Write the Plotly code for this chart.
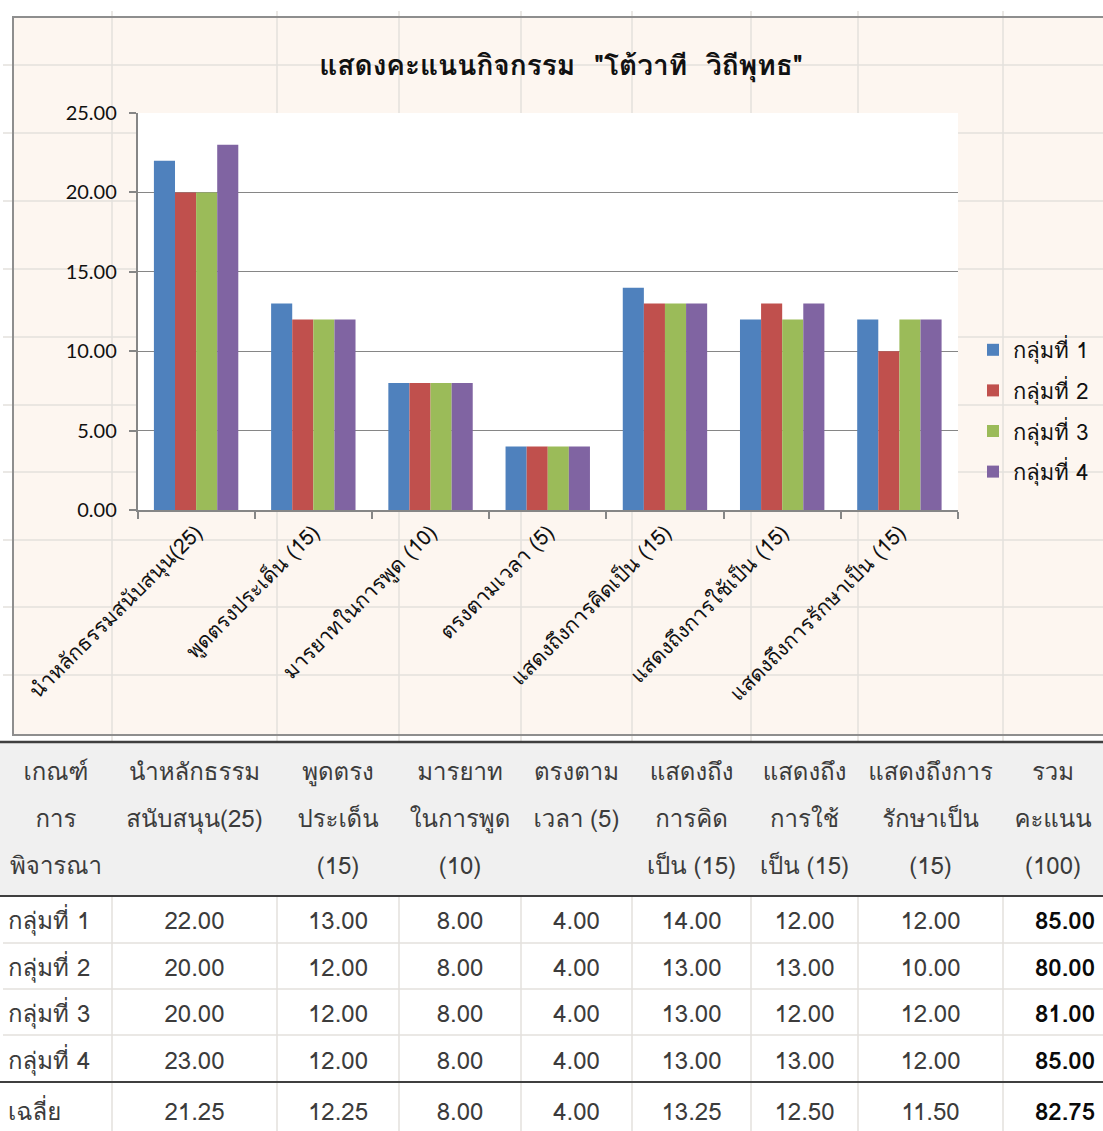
import plotly.graph_objects as go

# ---------------- data ----------------
categories = [
    "นำหลักธรรมสนับสนุน(25)",
    "พูดตรงประเด็น (15)",
    "มารยาทในการพูด (10)",
    "ตรงตามเวลา (5)",
    "แสดงถึงการคิดเป็น (15)",
    "แสดงถึงการใช้เป็น (15)",
    "แสดงถึงการรักษาเป็น (15)",
]
group_names = ["กลุ่มที่ 1", "กลุ่มที่ 2", "กลุ่มที่ 3", "กลุ่มที่ 4"]
group1 = [22, 13, 8, 4, 14, 12, 12]
group2 = [20, 12, 8, 4, 13, 13, 10]
group3 = [20, 12, 8, 4, 13, 12, 12]
group4 = [23, 12, 8, 4, 13, 13, 12]
y_ticks = [0, 5, 10, 15, 20, 25]

title_text = 'แสดงคะแนนกิจกรรม  "โต้วาที  วิถีพุทธ"'

NB = "\u00a0"
header_lines = [
    ["เกณฑ์", "การ", "พิจารณา"],
    ["นำหลักธรรม", "สนับสนุน(25)", ""],
    ["พูดตรง", "ประเด็น", "(15)"],
    ["มารยาท", "ในการพูด", "(10)"],
    ["ตรงตาม", f"เวลา{NB}(5)", ""],
    ["แสดงถึง", "การคิด", f"เป็น{NB}(15)"],
    ["แสดงถึง", "การใช้", f"เป็น{NB}(15)"],
    ["แสดงถึงการ", "รักษาเป็น", "(15)"],
    ["รวม", "คะแนน", "(100)"],
]
avg_label = "เฉลี่ย"

# ---------------- styling constants ----------------
W, H = 1103, 1131
colors = ["#4F81BD", "#C0504D", "#9BBB59", "#8064A2"]
THAI = "Tahoma, Loma, 'Noto Sans Thai Looped', 'Noto Sans Thai', 'Noto Sans', sans-serif"
LAT = "Lato, Carlito, Calibri, 'Noto Sans Thai', 'Noto Sans', sans-serif"
TFS = 24


def px_x(v):
    return v / W


def px_y(v):
    return 1 - v / H


series = [group1, group2, group3, group4]

fig = go.Figure()
for i, (name, vals) in enumerate(zip(group_names, series)):
    fig.add_trace(go.Bar(
        x=categories, y=vals, name=name,
        marker=dict(color=colors[i], line=dict(width=0)),
        legendgroup=f"g{i}",
    ))

# ---------------- table ----------------
row_totals = [sum(s) for s in series]
avgs = [sum(s[j] for s in series) / len(series) for j in range(len(categories))]
avg_total = sum(row_totals) / len(row_totals)

ncols = len(header_lines)
col_widths = [112, 165, 122, 122, 111, 119, 107, 145, 100]
HEAD_BG = "#F0F0F0"
TXT = "#3C3C3C"
CLEAR = "rgba(0,0,0,0)"

# header table (3 text lines)
fig.add_trace(go.Table(
    domain=dict(x=[0, 1], y=[px_y(900), px_y(754)]),
    columnwidth=col_widths,
    header=dict(
        values=[h[0] for h in header_lines],
        fill_color=CLEAR, line=dict(color=CLEAR, width=0),
        align="center", height=47,
        font=dict(family=THAI, size=TFS, color=TXT),
    ),
    cells=dict(
        values=[[h[1], h[2]] for h in header_lines],
        fill_color=CLEAR, line=dict(color=CLEAR, width=0),
        align="center", height=47,
        font=dict(family=THAI, size=TFS, color=TXT),
    ),
))

# group rows
body_cols = [list(group_names)]
for j in range(len(categories)):
    body_cols.append([f"{s[j]:.2f}" for s in series])
body_cols.append([f"{t:.2f}" for t in row_totals])
avg_row = [avg_label] + [f"{a:.2f}" for a in avgs] + [f"{avg_total:.2f}"]

aligns = ["left"] + ["center"] * len(categories) + ["right"]
fcolors = [TXT] * (ncols - 1) + ["#0A0A0A"]
fweights = [400] * (ncols - 1) + [700]
body_font = dict(family=THAI, size=TFS, color=fcolors, weight=fweights)

fig.add_trace(go.Table(
    domain=dict(x=[0, 1], y=[px_y(1092), px_y(903)]),
    columnwidth=col_widths,
    header=dict(
        values=[c[0] for c in body_cols],
        fill_color=CLEAR, line=dict(color=CLEAR, width=0),
        align=aligns, height=46.7, font=body_font,
    ),
    cells=dict(
        values=[c[1:] for c in body_cols],
        fill_color=CLEAR, line=dict(color=CLEAR, width=0),
        align=aligns, height=46.7, font=body_font,
    ),
))

# average row
fig.add_trace(go.Table(
    domain=dict(x=[0, 1], y=[0, px_y(1094)]),
    columnwidth=col_widths,
    header=dict(
        values=avg_row,
        fill_color=CLEAR, line=dict(color=CLEAR, width=0),
        align=aligns, height=37, font=body_font,
    ),
    cells=dict(values=[[] for _ in avg_row],
               fill_color=CLEAR, line=dict(color=CLEAR, width=0)),
))

# ---------------- background (spreadsheet + chart area) ----------------
GRID = "#E3E0DD"
shapes = []
shapes.append(dict(type="rect", xref="paper", yref="paper",
                   x0=px_x(13), x1=px_x(1110), y0=px_y(735), y1=px_y(17),
                   fillcolor="#FDF6F0", line=dict(width=0), layer="below"))
for xv in [112, 277, 399, 521, 632, 751, 858, 1003]:
    shapes.append(dict(type="line", xref="paper", yref="paper",
                       x0=px_x(xv), x1=px_x(xv), y0=0, y1=px_y(11),
                       line=dict(color=GRID, width=1.5), layer="below"))
for yv in [65, 133, 201, 269, 337, 405, 472, 540, 607, 675, 943, 989, 1035]:
    shapes.append(dict(type="line", xref="paper", yref="paper",
                       x0=px_x(3), x1=1, y0=px_y(yv), y1=px_y(yv),
                       line=dict(color=GRID, width=1.5), layer="below"))
# table header background
shapes.append(dict(type="rect", xref="paper", yref="paper",
                   x0=0, x1=1, y0=px_y(896), y1=px_y(742),
                   fillcolor=HEAD_BG, line=dict(width=0), layer="below"))
# plot area
shapes.append(dict(type="rect", xref="x domain", yref="y domain",
                   x0=0, x1=1, y0=0, y1=1,
                   fillcolor="white", line=dict(width=0), layer="below"))
# chart border
shapes.append(dict(type="rect", xref="paper", yref="paper",
                   x0=px_x(13), x1=px_x(1110), y0=px_y(735), y1=px_y(17),
                   fillcolor=CLEAR, line=dict(color="#8E8E8E", width=2)))
for yv, wd in [(742, 2.5), (896, 2), (1082, 2)]:
    shapes.append(dict(type="line", xref="paper", yref="paper",
                       x0=0, x1=1, y0=px_y(yv), y1=px_y(yv),
                       line=dict(color="#3F3F3F", width=wd)))

fig.update_layout(
    width=W, height=H,
    margin=dict(l=0, r=0, t=0, b=0, autoexpand=False),
    paper_bgcolor="white",
    plot_bgcolor=CLEAR,
    barmode="group",
    bargap=0.28,
    bargroupgap=0,
    shapes=shapes,
    title=dict(text=f"<b>{title_text}</b>", x=px_x(561), y=px_y(65),
               xanchor="center", yanchor="middle", xref="paper", yref="paper",
               font=dict(family=THAI, size=28, color="#111111")),
    xaxis=dict(
        domain=[px_x(137.5), px_x(958)],
        type="category",
        automargin=False,
        tickangle=-45,
        tickson="boundaries",
        ticks="outside", ticklen=7, tickcolor="#868686", tickwidth=1.5,
        showline=True, linecolor="#868686", linewidth=1.5,
        showgrid=False,
        tickfont=dict(family=THAI, size=21, color="#111111"),
    ),
    yaxis=dict(
        domain=[px_y(510), px_y(113)],
        range=[0, 25],
        automargin=False,
        tickvals=y_ticks,
        tickformat=".2f",
        ticks="outside", ticklen=7, tickcolor="#868686", tickwidth=1.5,
        ticklabelstandoff=8,
        showline=True, linecolor="#868686", linewidth=1.5,
        showgrid=True, gridcolor="#868686", gridwidth=1.2,
        zeroline=False,
        tickfont=dict(family=LAT, size=20, color="#111111"),
    ),
    legend=dict(
        x=px_x(973), y=px_y(329), xanchor="left", yanchor="top",
        bgcolor=CLEAR,
        font=dict(family=THAI, size=22, color="#111111"),
        tracegroupgap=9,
        itemwidth=30,
    ),
)

fig.write_html(
    "out.html",
    config={"displayModeBar": False},
    post_script="document.body.style.margin='0px';document.body.style.overflow='hidden';",
)
